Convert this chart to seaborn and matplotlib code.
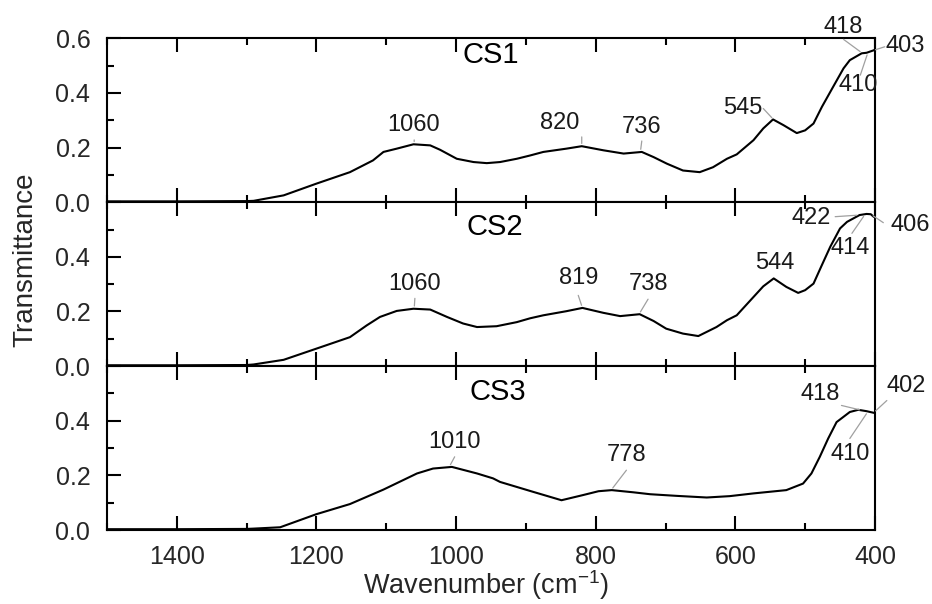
import numpy as np
import pandas as pd
import matplotlib
matplotlib.use("Agg")
import matplotlib.pyplot as plt
from matplotlib.ticker import MultipleLocator
import seaborn as sns

# ---------------- data ----------------
cs1_w = [1500, 1400, 1300, 1290, 1247, 1200, 1152, 1119, 1104, 1085, 1061, 1037, 1023, 999, 975,
         956, 937, 913, 894, 875, 842, 820, 789, 760, 734, 717, 698, 675, 651, 632, 612, 598,
         574, 560, 546, 531, 512, 500, 488, 476, 460, 445, 436, 419, 412, 403, 400]
cs1_t = [0.003, 0.003, 0.004, 0.005, 0.025, 0.068, 0.110, 0.153, 0.184, 0.196, 0.212, 0.208, 0.192, 0.159, 0.147,
         0.143, 0.147, 0.159, 0.171, 0.184, 0.196, 0.205, 0.190, 0.178, 0.184, 0.165, 0.141, 0.116, 0.110, 0.128, 0.159, 0.175,
         0.227, 0.270, 0.303, 0.282, 0.253, 0.263, 0.288, 0.349, 0.422, 0.490, 0.520, 0.545, 0.547, 0.555, 0.558]

cs2_w = [1500, 1400, 1300, 1290, 1247, 1200, 1152, 1128, 1109, 1085, 1061, 1037, 1013, 990, 970,
         942, 913, 894, 875, 842, 819, 789, 765, 737, 717, 699, 675, 653, 627, 612, 598,
         574, 560, 545, 527, 510, 500, 488, 476, 464, 450, 440, 422, 412, 406, 402, 400]
cs2_t = [0.003, 0.003, 0.004, 0.006, 0.023, 0.064, 0.106, 0.149, 0.180, 0.202, 0.210, 0.207, 0.180, 0.156, 0.143,
         0.146, 0.161, 0.175, 0.186, 0.201, 0.213, 0.195, 0.183, 0.190, 0.165, 0.137, 0.119, 0.110, 0.143, 0.168, 0.186,
         0.253, 0.292, 0.321, 0.290, 0.268, 0.278, 0.302, 0.370, 0.437, 0.504, 0.528, 0.553, 0.557, 0.556, 0.547, 0.545]

cs3_w = [1500, 1400, 1300, 1291, 1252, 1200, 1152, 1104, 1056, 1033, 1006, 970, 947, 937, 890,
         849, 818, 796, 777, 746, 722, 684, 641, 608, 574, 527, 503, 491, 479, 467, 455,
         436, 424, 412, 400]
cs3_t = [0.003, 0.003, 0.004, 0.005, 0.010, 0.058, 0.095, 0.148, 0.207, 0.225, 0.231, 0.207, 0.189, 0.176, 0.140,
         0.109, 0.128, 0.142, 0.146, 0.138, 0.131, 0.125, 0.119, 0.124, 0.134, 0.146, 0.170, 0.207, 0.268, 0.335, 0.395,
         0.432, 0.440, 0.435, 0.428]

sample_names = ["CS1", "CS2", "CS3"]

# peak labels: (label, peak wavenumber, text x, text y, leader start x, leader start y)
cs1_peaks = [("1060", 1060, 1061, 0.281, 1060, 0.228),
             ("820", 820, 851, 0.289, 820, 0.239),
             ("736", 736, 734, 0.275, 734, 0.224),
             ("545", 545, 589, 0.343, 560, 0.343),
             ("418", 418, 446, 0.643, 445, 0.596),
             ("410", 410, 424, 0.429, 421, 0.465),
             ("403", 403, 357, 0.572, 386, 0.569)]
cs2_peaks = [("1060", 1060, 1059, 0.302, 1059, 0.248),
             ("819", 819, 825, 0.321, 825, 0.259),
             ("738", 738, 725, 0.302, 725, 0.245),
             ("544", 544, 543, 0.376, None, None),
             ("422", 422, 491, 0.541, 457, 0.547),
             ("414", 414, 436, 0.431, 433, 0.486),
             ("406", 406, 350, 0.516, 388, 0.525)]
cs3_peaks = [("1010", 1010, 1002, 0.322, 1002, 0.268),
             ("778", 778, 756, 0.274, 756, 0.219),
             ("418", 418, 479, 0.499, 448, 0.456),
             ("410", 410, 436, 0.280, 436, 0.335),
             ("402", 402, 355, 0.526, 383, 0.474)]

name_pos = [(951, 0.539), (944, 0.510), (940, 0.507)]

x_major = [1400, 1200, 1000, 800, 600, 400]
y_major = [0.0, 0.2, 0.4, 0.6]

# ---------------- style ----------------
sns.set_theme(style="ticks")
plt.rcParams["font.family"] = ["Liberation Sans", "DejaVu Sans"]
plt.rcParams["mathtext.fontset"] = "custom"
plt.rcParams["mathtext.rm"] = "Liberation Sans"
plt.rcParams["mathtext.it"] = "Liberation Sans:italic"

fig, axes = plt.subplots(3, 1, figsize=(9.32, 6.04), dpi=100, sharex=True)
fig.subplots_adjust(left=0.1148, right=0.9388, top=0.9366, bottom=0.1225, hspace=0)

series = [(cs1_w, cs1_t, cs1_peaks), (cs2_w, cs2_t, cs2_peaks), (cs3_w, cs3_t, cs3_peaks)]

TICK_FS = 18
ANN_FS = 17

for i, (ax, (w, t, peaks)) in enumerate(zip(axes, series)):
    df = pd.DataFrame({"Wavenumber": w, "Transmittance": t})
    sns.lineplot(data=df, x="Wavenumber", y="Transmittance", ax=ax, color="black",
                 lw=1.5, sort=True, estimator=None)
    ax.set_xlim(1500, 400)
    ax.set_ylim(0, 0.6)
    ax.set_xlabel("")
    ax.set_ylabel("")
    for sp in ax.spines.values():
        sp.set_visible(True)
        sp.set_linewidth(1.5)
        sp.set_color("black")
    ax.xaxis.set_major_locator(plt.FixedLocator(x_major))
    ax.xaxis.set_minor_locator(MultipleLocator(100))
    ax.set_yticks(y_major)
    ax.yaxis.set_minor_locator(MultipleLocator(0.1))
    labels = ["%.1f" % v for v in y_major]
    if i > 0:
        labels[-1] = ""
    ax.set_yticklabels(labels)
    ax.tick_params(axis="x", which="both", direction="in", top=True, bottom=True,
                   labelbottom=(i == 2), width=1.5, color="black", labelsize=TICK_FS, pad=11)
    ax.tick_params(axis="x", which="major", length=10)
    ax.tick_params(axis="x", which="minor", length=5)
    ax.tick_params(axis="y", which="both", direction="in", left=True, right=False,
                   width=1.5, color="black", labelsize=TICK_FS, pad=12)
    ax.tick_params(axis="y", which="major", length=10)
    ax.tick_params(axis="y", which="minor", length=5)

    wa = np.array(w[::-1], dtype=float)
    ta = np.array(t[::-1], dtype=float)
    for lab, pk, tx, ty, lx, ly in peaks:
        py = np.interp(pk, wa, ta)
        ax.text(tx, ty, lab, ha="center", va="center", fontsize=ANN_FS, color="#1a1a1a",
                clip_on=False)
        if lx is not None:
            ax.annotate("", xy=(pk, py), xytext=(lx, ly),
                        arrowprops=dict(arrowstyle="-", color="#a0a0a0", lw=0.9,
                                        shrinkA=0, shrinkB=2),
                        annotation_clip=False)
    nx, ny = name_pos[i]
    ax.text(nx, ny, sample_names[i], ha="center", va="center", fontsize=21, color="black")

fig.text(25 / 932, 1 - 260 / 604, "Transmittance", rotation=90, ha="center", va="center", fontsize=20)
fig.text(486 / 932, 1 - 585 / 604, "Wavenumber (cm$^{-1}$)", ha="center", va="center", fontsize=19.5)

fig.savefig("out.png", dpi=100, facecolor="white")
